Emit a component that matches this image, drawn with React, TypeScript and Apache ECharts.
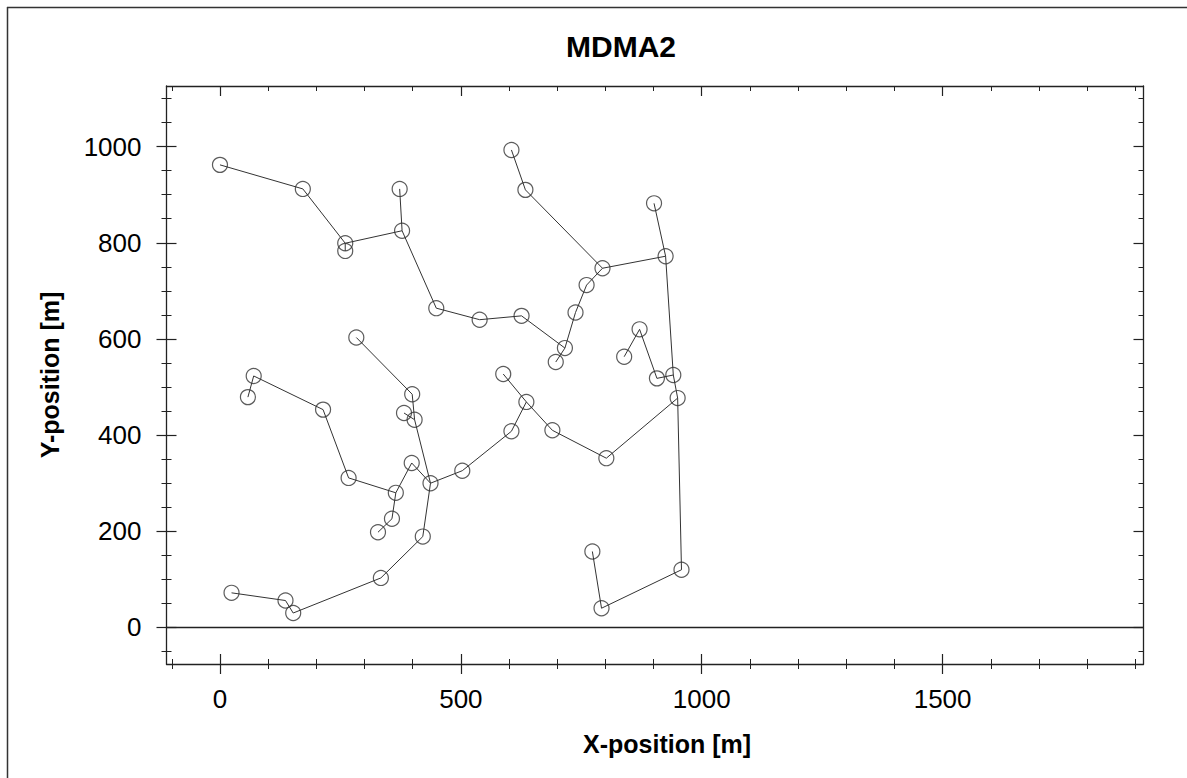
import React, { useEffect, useRef } from "react";
import * as echarts from "echarts";

// Axis extents of the plotting box (metres)
const X_MIN = -111;
const X_MAX = 1917;
const Y_MIN = -76;
const Y_MAX = 1126;

// Labelled tick positions
const xTickValues = [0, 500, 1000, 1500];
const yTickValues = [0, 200, 400, 600, 800, 1000];

// Station network, drawn as polylines of [x, y] positions in metres
const trunk: [number, number][] = [
  [0, 962], [172, 912], [260, 799], [378, 825], [449, 664], [539, 640],
  [626, 648], [716, 581], [738, 655], [761, 712], [794, 747], [925, 772],
  [941, 525], [950, 477], [958, 120], [792, 40], [773, 158],
];
const branchA: [number, number][] = [[260, 783], [260, 799]];
const branchB: [number, number][] = [[373, 912], [378, 825]];
const branchC: [number, number][] = [[697, 552], [716, 581]];
const branchD: [number, number][] = [[605, 993], [634, 910], [794, 747]];
const branchE: [number, number][] = [[901, 882], [925, 772]];
const branchF: [number, number][] = [[839, 563], [871, 620], [907, 518], [941, 525]];
const branchG: [number, number][] = [
  [950, 477], [802, 352], [690, 410], [636, 469], [605, 408], [503, 326],
  [437, 300], [421, 189], [334, 103], [152, 30], [136, 56], [24, 72],
];
const branchH: [number, number][] = [[588, 527], [636, 469]];
const branchI: [number, number][] = [[283, 603], [399, 485], [404, 432], [437, 300]];
const branchJ: [number, number][] = [[382, 446], [404, 432]];
const branchK: [number, number][] = [
  [58, 479], [70, 523], [214, 453], [267, 311], [365, 280], [398, 342], [437, 300],
];
const branchL: [number, number][] = [[365, 280], [357, 226], [328, 198]];

const paths = [
  trunk, branchA, branchB, branchC, branchD, branchE, branchF,
  branchG, branchH, branchI, branchJ, branchK, branchL,
];

// Every station once, for the circle markers
function uniqueNodes(list: [number, number][][]): [number, number][] {
  const seen = new Set<string>();
  const out: [number, number][] = [];
  list.forEach((p) =>
    p.forEach((pt) => {
      const key = pt[0] + "," + pt[1];
      if (!seen.has(key)) {
        seen.add(key);
        out.push(pt);
      }
    })
  );
  return out;
}

const INK = "#222";
const FONT = "'Liberation Sans', Arial, Helvetica, sans-serif";
const plain = (v: number) => String(v);

function makeXAxis(position: "bottom" | "top", inside: boolean, labels: boolean, line: boolean, name?: string) {
  return {
    type: "value",
    position,
    min: X_MIN,
    max: X_MAX,
    splitNumber: 5,
    name,
    nameLocation: "middle",
    nameGap: 67,
    nameTextStyle: {
      fontFamily: FONT,
      fontSize: 25,
      fontWeight: "bold",
      color: "#000",
      padding: [0, 0, 0, 24],
    },
    axisLine: { show: line, onZero: false, lineStyle: { color: INK, width: 1.3 } },
    axisTick: { show: true, inside, length: 10, customValues: xTickValues, lineStyle: { color: INK, width: 1.2 } },
    minorTick: { show: true, splitNumber: 5, length: 5, lineStyle: { color: INK, width: 1 } },
    axisLabel: {
      show: labels,
      customValues: xTickValues,
      formatter: plain,
      margin: 22,
      fontFamily: FONT,
      fontSize: 26,
      color: "#000",
    },
    splitLine: { show: false },
    minorSplitLine: { show: false },
  };
}

function makeYAxis(position: "left" | "right", inside: boolean, labels: boolean, line: boolean, name?: string) {
  return {
    type: "value",
    position,
    min: Y_MIN,
    max: Y_MAX,
    splitNumber: 5,
    name,
    nameLocation: "middle",
    nameGap: 104,
    nameTextStyle: { fontFamily: FONT, fontSize: 25, fontWeight: "bold", color: "#000" },
    axisLine: { show: line, onZero: false, lineStyle: { color: INK, width: 1.3 } },
    axisTick: { show: true, inside, length: 10, customValues: yTickValues, lineStyle: { color: INK, width: 1.2 } },
    minorTick: { show: true, splitNumber: 4, length: 5, lineStyle: { color: INK, width: 1 } },
    axisLabel: {
      show: labels,
      customValues: yTickValues,
      formatter: plain,
      margin: 25,
      fontFamily: FONT,
      fontSize: 26,
      color: "#000",
    },
    splitLine: { show: false },
    minorSplitLine: { show: false },
  };
}

export default function App() {
  const ref = useRef<HTMLDivElement>(null);

  useEffect(() => {
    if (!ref.current) return;
    const chart = echarts.init(ref.current, null, { renderer: "svg" });

    const lineSeries = paths.map((p, i) => ({
      type: "line",
      data: p,
      xAxisIndex: 0,
      yAxisIndex: 0,
      symbol: "none",
      showSymbol: false,
      silent: true,
      z: 2,
      lineStyle: { color: "#333", width: 1 },
      ...(i === 0
        ? {
            markLine: {
              silent: true,
              symbol: ["none", "none"],
              label: { show: false },
              lineStyle: { color: INK, width: 1.3, type: "solid" },
              data: [{ yAxis: 0 }],
            },
          }
        : {}),
    }));

    chart.setOption({
      animation: false,
      backgroundColor: "#fff",
      grid: { left: 166.5, right: 43.5, top: 86, bottom: 114, containLabel: false },
      xAxis: [
        makeXAxis("bottom", false, true, true, "X-position [m]"),
        makeXAxis("bottom", true, false, false),
        makeXAxis("top", true, false, true),
      ],
      yAxis: [
        makeYAxis("left", false, true, true, "Y-position [m]"),
        makeYAxis("left", true, false, false),
        makeYAxis("right", true, false, true),
      ],
      series: [
        ...lineSeries,
        {
          type: "scatter",
          data: uniqueNodes(paths),
          xAxisIndex: 0,
          yAxisIndex: 0,
          symbol: "circle",
          symbolSize: 15,
          silent: true,
          z: 3,
          itemStyle: { color: "rgba(0,0,0,0)", borderColor: "#333", borderWidth: 1.2 },
        },
      ],
      graphic: [
        { type: "line", shape: { x1: 7, y1: 7.5, x2: 1187, y2: 7.5 }, style: { stroke: "#333", lineWidth: 1.5 } },
        { type: "line", shape: { x1: 7.5, y1: 7, x2: 7.5, y2: 778 }, style: { stroke: "#333", lineWidth: 1.5 } },
        {
          type: "text",
          x: 621,
          y: 46,
          style: {
            text: "MDMA2",
            fill: "#000",
            fontFamily: FONT,
            fontSize: 30,
            fontWeight: "bold",
            align: "center",
            verticalAlign: "middle",
          },
        },
      ],
    });

    return () => chart.dispose();
  }, []);

  return (
    <div
      ref={ref}
      style={{ position: "fixed", left: 0, top: 0, width: 1187, height: 778, background: "#fff" }}
    />
  );
}
